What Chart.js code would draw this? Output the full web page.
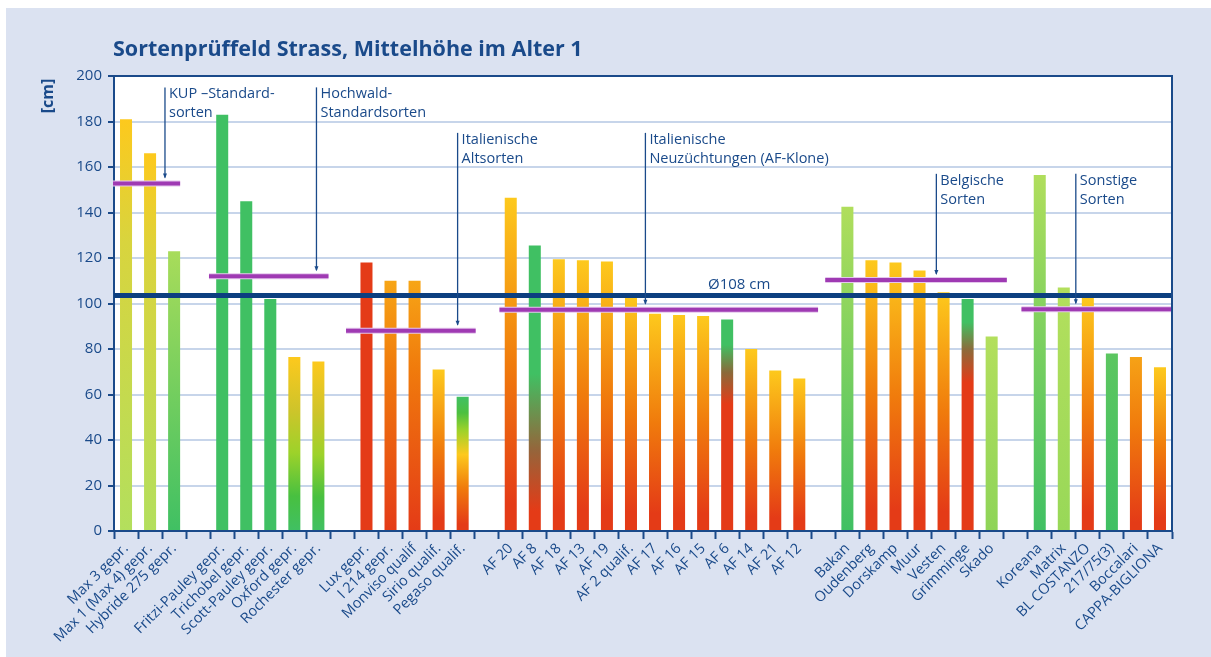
<!DOCTYPE html>
<html>
<head>
<meta charset="utf-8">
<script src="https://cdn.jsdelivr.net/npm/chart.js@4.4.1/dist/chart.umd.min.js"></script>
<style>
  html, body { margin: 0; padding: 0; background: #fff; }
  #wrap { width: 1211px; height: 657px; }
</style>
</head>
<body>
<div id="wrap"><canvas id="chart" width="1211" height="657"></canvas></div>
<script>
// varieties (empty strings are the gaps between the groups)
var categories = ['Max 3 gepr.', 'Max 1 (Max 4) gepr.', 'Hybride 275 gepr.', '',
    'Fritzi-Pauley gepr.', 'Trichobel gepr.', 'Scott-Pauley gepr.', 'Oxford gepr.', 'Rochester gepr.', '',
    'Lux gepr.', 'I 214 gepr.', 'Monviso qualif', 'Sirio qualif.', 'Pegaso qualif.', '',
    'AF 20', 'AF 8', 'AF 18', 'AF 13', 'AF 19', 'AF 2 qualif.', 'AF 17', 'AF 16', 'AF 15', 'AF 6', 'AF 14', 'AF 21', 'AF 12', '',
    'Bakan', 'Oudenberg', 'Dorskamp', 'Muur', 'Vesten', 'Grimminge', 'Skado', '',
    'Koreana', 'Matrix', 'BL COSTANZO', '217/75(3)', 'Boccalari', 'CAPPA-BIGLIONA'];

// mean height at age 1 [cm]
var heights = [181, 166, 123, null,
    183, 145, 102, 76.5, 74.5, null,
    118, 110, 110, 71, 59, null,
    146.5, 125.5, 119.5, 119, 118.5, 104.5, 95.5, 95, 94.5, 93, 80, 70.5, 67, null,
    142.5, 119, 118, 114.5, 105, 102, 85.5, null,
    156.5, 107, 103, 78, 76.5, 72];

var yTicks = [0, 20, 40, 60, 80, 100, 120, 140, 160, 180, 200];

// group means (purple lines) and the overall mean
var groupLabels = [['KUP \u2013Standard-', 'sorten'], ['Hochwald-', 'Standardsorten'], ['Italienische', 'Altsorten'],
    ['Italienische', 'Neuz\u00fcchtungen (AF-Klone)'], ['Belgische', 'Sorten'], ['Sonstige', 'Sorten']];
var groupMeans = [152.7, 112, 88, 97.3, 110.3, 97.5];
var overallMean = 103.5;
var overallLabel = '\u00d8108 cm';

// colours
var DARK = '#1a4a8a';
var BG = '#dbe2f1';
var Y = '#fdc91d', O = '#f07b0c', R = '#e43b17', G = '#40c063', LG = '#b3df5d', LIME = '#9dd22a';
var yor = [[0, Y], [0.5, O], [0.92, R]];
var barStops = [
    [[0, Y], [0.3, '#d8d43e'], [1, LG]], [[0, Y], [0.3, '#d8d43e'], [1, LG]], [[0, '#a8dc5a'], [1, G]], null,
    [[0, G], [1, G]], [[0, G], [1, G]], [[0, G], [1, G]],
    [[0, Y], [0.3, '#cfc42a'], [0.55, LIME], [0.8, '#48c040'], [1, G]],
    [[0, Y], [0.3, '#cfc42a'], [0.55, LIME], [0.8, '#48c040'], [1, G]], null,
    [[0, R], [1, R]], [[0, '#f7a516'], [0.35, O], [1, R]], [[0, '#f7a516'], [0.35, O], [1, R]], yor,
    [[0, G], [0.12, '#4cc040'], [0.25, LIME], [0.43, Y], [0.68, O], [0.95, R]], null,
    yor, [[0, G], [0.45, G], [0.72, '#96643a'], [0.93, R]], yor, yor, yor, yor, yor, yor, yor,
    [[0, G], [0.12, G], [0.25, '#8a6a3a'], [0.4, R], [1, R]], yor, yor, yor, null,
    [[0, '#b0de5c'], [1, G]], yor, yor, yor, yor,
    [[0, G], [0.1, G], [0.22, '#8e6a3a'], [0.36, R], [1, R]], [[0, LG], [1, '#8ed458']], null,
    [[0, '#b0de5c'], [1, G]], [[0, LG], [1, '#98d858']], yor, [[0, '#5cc660'], [1, G]],
    [[0, '#f6a216'], [0.4, O], [0.95, R]], yor];

// annotation geometry in category units / axis values
var groupSpan = [[-0.54, 2.25], [3.45, 8.42], [9.15, 14.54], [15.53, 28.78], [29.08, 36.63], [37.24, 43.5]];
var arrowPos = [1.62, 7.92, 13.79, 21.6, 33.7, 39.5];
var arrowTop = [195, 195, 175, 175, 157, 157];

function barColor(ctx) {
    var chart = ctx.chart;
    if (!chart.chartArea || ctx.type !== 'data') return 'transparent';
    var v = ctx.raw;
    var stops = barStops[ctx.dataIndex];
    if (v == null || !stops) return 'transparent';
    var y = chart.scales.y;
    var g = chart.ctx.createLinearGradient(0, y.getPixelForValue(v), 0, y.getPixelForValue(0));
    stops.forEach(function(s) { g.addColorStop(s[0], s[1]); });
    return g;
}

var overlay = {
    id: 'overlay',
    beforeDraw: function(chart) {
        var c = chart.ctx, a = chart.chartArea;
        c.save();
        c.fillStyle = '#fff';
        c.fillRect(0, 0, chart.width, chart.height);
        c.fillStyle = BG;
        c.fillRect(6, 8, chart.width - 6, chart.height - 8);
        c.fillStyle = '#fff';
        c.fillRect(a.left, a.top, a.right - a.left, a.bottom - a.top);
        c.restore();
    },
    afterDatasetsDraw: function(chart) {
        var c = chart.ctx, a = chart.chartArea;
        var xs = chart.scales.x, ys = chart.scales.y;
        var x0 = xs.getPixelForValue(0), bw = xs.getPixelForValue(1) - x0;
        c.save();
        // overall mean
        var ym = ys.getPixelForValue(overallMean);
        c.strokeStyle = '#0c3f80';
        c.lineWidth = 5;
        c.beginPath(); c.moveTo(a.left, ym); c.lineTo(a.right, ym); c.stroke();
        c.fillStyle = DARK;
        c.font = '15px "Open Sans"';
        c.textAlign = 'center';
        c.textBaseline = 'alphabetic';
        c.fillText(overallLabel, xs.getPixelForValue(25.5), ym - 7);
        // group means
        groupMeans.forEach(function(m, i) {
            var y = ys.getPixelForValue(m);
            var xa = x0 + groupSpan[i][0] * bw, xb = Math.min(a.right, x0 + groupSpan[i][1] * bw);
            c.lineCap = 'butt';
            c.strokeStyle = '#e4c6ec';
            c.lineWidth = 6;
            c.beginPath(); c.moveTo(xa, y); c.lineTo(xb, y); c.stroke();
            c.strokeStyle = '#9f3ab3';
            c.lineWidth = 4;
            c.beginPath(); c.moveTo(xa, y); c.lineTo(xb, y); c.stroke();
        });
        // arrows and group labels
        c.textAlign = 'left';
        c.font = '14.5px "Open Sans"';
        groupMeans.forEach(function(m, i) {
            var x = x0 + arrowPos[i] * bw;
            var yt = ys.getPixelForValue(arrowTop[i]);
            var yb = ys.getPixelForValue(m) - 6;
            c.strokeStyle = DARK;
            c.lineWidth = 1.3;
            c.beginPath(); c.moveTo(x, yt); c.lineTo(x, yb); c.stroke();
            c.fillStyle = DARK;
            c.beginPath(); c.moveTo(x - 2, yb - 4); c.lineTo(x + 2, yb - 4); c.lineTo(x, yb + 1); c.closePath(); c.fill();
            c.fillText(groupLabels[i][0], x + 4, yt + 11);
            c.fillText(groupLabels[i][1], x + 4, yt + 30);
        });
        // frame top and right
        c.strokeStyle = DARK;
        c.lineWidth = 2;
        c.beginPath(); c.moveTo(a.left, a.top); c.lineTo(a.right, a.top); c.lineTo(a.right, a.bottom); c.stroke();
        c.restore();
    },
    afterDraw: function(chart) {
        var c = chart.ctx;
        c.save();
        c.fillStyle = DARK;
        c.font = 'bold 21.5px "Open Sans"';
        c.textAlign = 'left';
        c.fillText('Sortenpr\u00fcffeld Strass, Mittelh\u00f6he im Alter 1', 113, 56);
        c.translate(53, 96);
        c.rotate(-Math.PI / 2);
        c.textAlign = 'center';
        c.font = 'bold 16px "Open Sans"';
        c.fillText('[cm]', 0, 0);
        c.restore();
    }
};

new Chart(document.getElementById('chart'), {
    type: 'bar',
    data: {
        labels: categories,
        datasets: [{
            data: heights,
            backgroundColor: barColor,
            barPercentage: 0.5,
            categoryPercentage: 1.0
        }]
    },
    options: {
        responsive: false,
        animation: false,
        events: [],
        layout: { padding: { left: 0, top: 76, right: 39, bottom: 0 } },
        plugins: { legend: { display: false }, tooltip: { enabled: false } },
        scales: {
            x: {
                afterFit: function(s) { s.height = 126; },
                grid: { drawOnChartArea: false, tickLength: 8, tickColor: DARK, tickWidth: 2 },
                border: { color: DARK, width: 2 },
                ticks: {
                    autoSkip: false, minRotation: 45, maxRotation: 45, padding: 1,
                    color: DARK, font: { family: 'Open Sans', size: 14.5 }
                }
            },
            y: {
                min: 0, max: 200,
                afterFit: function(s) { s.width = 114; },
                afterBuildTicks: function(s) { s.ticks = yTicks.map(function(v) { return { value: v }; }); },
                grid: { color: '#c7d5ea', lineWidth: 2, tickLength: 6, tickColor: DARK, tickWidth: 2 },
                border: { color: DARK, width: 2 },
                ticks: { padding: 6, color: DARK, font: { family: 'Open Sans', size: 15 } }
            }
        }
    },
    plugins: [overlay]
});
</script>
</body>
</html>
